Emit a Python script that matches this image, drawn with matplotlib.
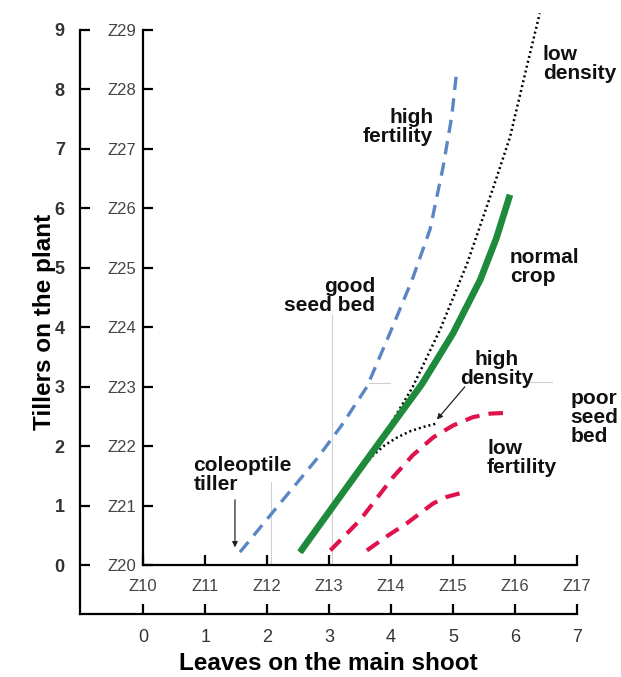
import matplotlib
matplotlib.use("Agg")
import matplotlib.pyplot as plt

plt.rcParams['font.family'] = ['Liberation Sans', 'DejaVu Sans']

# === Data ===
leaf_ticks = [0, 1, 2, 3, 4, 5, 6, 7]
tiller_ticks = [0, 1, 2, 3, 4, 5, 6, 7, 8, 9]
z_leaf = ['Z10', 'Z11', 'Z12', 'Z13', 'Z14', 'Z15', 'Z16', 'Z17']
z_tiller = ['Z20', 'Z21', 'Z22', 'Z23', 'Z24', 'Z25', 'Z26', 'Z27', 'Z28', 'Z29']

high_fert_x = [1.56, 2.16, 2.81, 3.2, 3.61, 3.98, 4.34, 4.63, 4.84, 4.98, 5.05]
high_fert_y = [0.22, 0.98, 1.80, 2.35, 3.0, 3.9, 4.8, 5.65, 6.7, 7.55, 8.22]

normal_x = [2.53, 3.0, 3.5, 3.94, 4.5, 5.0, 5.44, 5.7, 5.92]
normal_y = [0.22, 0.9, 1.62, 2.25, 3.05, 3.9, 4.8, 5.5, 6.23]

low_dens_x = [2.53, 3.0, 3.5, 3.94, 4.35, 4.79, 5.23, 5.65, 5.92, 6.19, 6.4]
low_dens_y = [0.22, 0.9, 1.62, 2.28, 3.0, 3.96, 5.08, 6.35, 7.2, 8.38, 9.28]

high_dens_x = [2.53, 3.0, 3.5, 3.71, 3.9, 4.1, 4.3, 4.5, 4.72]
high_dens_y = [0.22, 0.9, 1.6, 1.85, 2.02, 2.15, 2.25, 2.32, 2.38]

poor_bed_x = [3.02, 3.5, 4.03, 4.35, 4.68, 5.0, 5.32, 5.6, 5.81]
poor_bed_y = [0.25, 0.76, 1.48, 1.85, 2.15, 2.35, 2.49, 2.55, 2.56]

low_fert_x = [3.61, 3.95, 4.26, 4.68, 4.9, 5.11]
low_fert_y = [0.25, 0.5, 0.71, 1.04, 1.15, 1.21]

# === Figure ===
fig = plt.figure(figsize=(6.21, 6.77), dpi=100)
ax = fig.add_axes([0.129, 0.093, 0.8, 0.8627])
ax.set_xlim(-1.02, 7)
ax.set_ylim(-0.82, 9)
for s in ['top', 'right']:
    ax.spines[s].set_visible(False)
for s in ['left', 'bottom']:
    ax.spines[s].set_linewidth(1.6)
ax.set_xticks(leaf_ticks)
ax.set_yticks(tiller_ticks)
ax.tick_params(axis='both', direction='in', length=7, width=1.6, labelsize=13,
               labelcolor='#333333')
ax.tick_params(axis='y', pad=11)
ax.tick_params(axis='x', pad=11)
for lab in ax.get_yticklabels():
    lab.set_fontweight('bold')
ax.set_xlabel('Leaves on the main shoot', fontsize=17.5, fontweight='bold', labelpad=4)
ax.set_ylabel('Tillers on the plant', fontsize=17.5, fontweight='bold', labelpad=-1)

# inner Zadoks axes
ia = ax.inset_axes([0, 0, 7, 9], transform=ax.transData)
ia.set_xlim(0, 7)
ia.set_ylim(0, 9)
ia.patch.set_alpha(0)
for s in ['top', 'right']:
    ia.spines[s].set_visible(False)
for s in ['left', 'bottom']:
    ia.spines[s].set_linewidth(1.6)
ia.set_xticks(leaf_ticks)
ia.set_xticklabels(z_leaf)
ia.set_yticks(tiller_ticks)
ia.set_yticklabels(z_tiller)
ia.tick_params(axis='both', direction='in', length=7, width=1.6, labelsize=12,
               labelcolor='#444444')
ia.tick_params(axis='x', pad=10)
ia.tick_params(axis='y', pad=5)

# faint leader lines
lc = '#cfcfcf'
ia.plot([3.05, 3.05], [0.03, 4.2], color=lc, lw=0.8, zorder=1)
ia.plot([2.06, 2.06], [0.03, 1.4], color=lc, lw=0.8, zorder=1)
ia.plot([3.65, 3.99], [3.06, 3.06], color=lc, lw=0.8, zorder=1)
ia.plot([6.2, 6.6], [3.08, 3.08], color=lc, lw=0.8, zorder=1)

# curves
ia.plot(high_fert_x, high_fert_y, color='#5a86c4', lw=2.4, ls=(0, (4, 2.5)), zorder=3)
ia.plot(high_dens_x, high_dens_y, color='black', lw=1.8, ls=(0, (0.8, 1.2)), zorder=3)
ia.plot(low_dens_x, low_dens_y, color='black', lw=1.8, ls=(0, (0.8, 1.2)), zorder=3,
        clip_on=False)
ia.plot(normal_x, normal_y, color='#1e8a3c', lw=4.8, solid_capstyle='butt', zorder=4)
ia.plot(poor_bed_x, poor_bed_y, color='#e0124c', lw=3.0, ls=(0, (3.5, 2.2)), zorder=3)
ia.plot(low_fert_x, low_fert_y, color='#e0124c', lw=3.0, ls=(0, (3.5, 2.2)), zorder=3)

# labels
tk = dict(fontsize=15, fontweight='bold', color='#111111', linespacing=1.0)
ia.text(4.68, 7.37, 'high\nfertility', ha='right', va='center', multialignment='right', **tk)
ia.text(6.45, 8.43, 'low\ndensity', ha='left', va='center', **tk)
ia.text(5.92, 5.02, 'normal\ncrop', ha='left', va='center', **tk)
ia.text(3.74, 4.53, 'good\nseed bed', ha='right', va='center', multialignment='right', **tk)
ia.text(5.71, 3.3, 'high\ndensity', ha='center', va='center', multialignment='center', **tk)
ia.text(6.9, 2.49, 'poor\nseed\nbed', ha='left', va='center', **tk)
ia.text(5.55, 1.8, 'low\nfertility', ha='left', va='center', **tk)
ia.text(0.81, 1.52, 'coleoptile\ntiller', ha='left', va='center', **tk)

ia.annotate('', xy=(1.48, 0.3), xytext=(1.48, 1.1),
            arrowprops=dict(arrowstyle='-|>', color='#222222', lw=0.9,
                            mutation_scale=8, shrinkA=0, shrinkB=0))
ia.annotate('', xy=(4.74, 2.45), xytext=(5.19, 3.0),
            arrowprops=dict(arrowstyle='-|>', color='#222222', lw=0.9,
                            mutation_scale=8, shrinkA=0, shrinkB=0))

fig.savefig('out.png', dpi=100)
